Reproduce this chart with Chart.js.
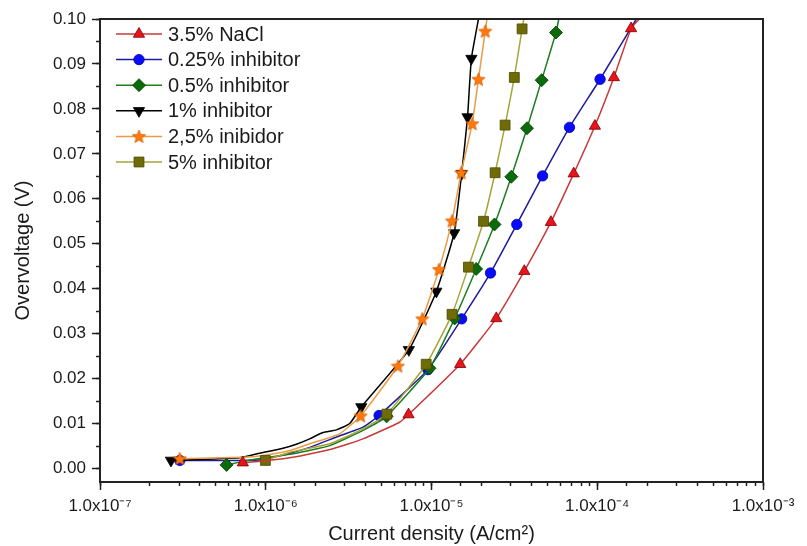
<!DOCTYPE html>
<html>
<head>
<meta charset="utf-8">
<script src="https://cdn.jsdelivr.net/npm/chart.js@4.4.0/dist/chart.umd.min.js"></script>
<style>
  html, body { margin: 0; padding: 0; background: #fff; }
</style>
</head>
<body>
<canvas id="chart" width="807" height="546"></canvas>
<script>
// Data (current density A/cm², overvoltage V)
const naclX = [7.27e-7, 9.20e-7, 1.46e-6, 2.54e-6, 3.86e-6, 6.42e-6, 7.27e-6, 1.49e-5, 2.46e-5, 3.63e-5, 5.25e-5, 7.21e-5, 9.68e-5, 1.26e-4, 1.60e-4, 1.79e-4];
const naclY = [0.0013, 0.0016, 0.0025, 0.0044, 0.0066, 0.0103, 0.0120, 0.0232, 0.0334, 0.0439, 0.0548, 0.0656, 0.0762, 0.0870, 0.0979, 0.1000];
const naclMarks = [0, 6, 7, 8, 9, 10, 11, 12, 13, 14];

const inh025X = [3.03e-7, 9.20e-7, 1.40e-6, 1.84e-6, 2.67e-6, 3.86e-6, 4.83e-6, 9.51e-6, 1.52e-5, 2.27e-5, 3.27e-5, 4.68e-5, 6.80e-5, 1.04e-4, 1.72e-4];
const inh025Y = [0.0018, 0.0019, 0.0034, 0.0047, 0.0070, 0.0092, 0.0118, 0.0220, 0.0333, 0.0435, 0.0543, 0.0651, 0.0759, 0.0866, 0.1000];
const inh025Marks = [0, 6, 7, 8, 9, 10, 11, 12, 13];

const inh05X = [5.80e-7, 8.01e-7, 1.46e-6, 2.43e-6, 3.86e-6, 5.36e-6, 9.73e-6, 1.38e-5, 1.86e-5, 2.40e-5, 3.03e-5, 3.77e-5, 4.62e-5, 5.64e-5, 5.86e-5];
const inh05Y = [0.0008, 0.0019, 0.0033, 0.0051, 0.0085, 0.0116, 0.0223, 0.0334, 0.0444, 0.0543, 0.0649, 0.0757, 0.0864, 0.0970, 0.1000];
const inh05Marks = [0, 5, 6, 7, 8, 9, 10, 11, 12, 13];

const inh1X = [2.68e-7, 6.97e-7, 9.20e-7, 1.27e-6, 1.53e-6, 1.84e-6, 2.21e-6, 2.67e-6, 3.21e-6, 3.77e-6, 7.30e-6, 1.07e-5, 1.37e-5, 1.52e-5, 1.65e-5, 1.74e-5, 1.92e-5];
const inh1Y = [0.0018, 0.0024, 0.0034, 0.0045, 0.0054, 0.0066, 0.0080, 0.0086, 0.0100, 0.0137, 0.0264, 0.0394, 0.0524, 0.0656, 0.0782, 0.0912, 0.1000];
const inh1Marks = [0, 9, 10, 11, 12, 13, 14, 15];

const inh25X = [3.03e-7, 7.27e-7, 9.63e-7, 1.40e-6, 1.84e-6, 2.21e-6, 2.79e-6, 3.74e-6, 6.27e-6, 8.79e-6, 1.11e-5, 1.33e-5, 1.51e-5, 1.76e-5, 1.92e-5, 2.11e-5, 2.16e-5];
const inh25Y = [0.0022, 0.0025, 0.0029, 0.0040, 0.0055, 0.0064, 0.0077, 0.0117, 0.0228, 0.0333, 0.0443, 0.0551, 0.0658, 0.0767, 0.0866, 0.0973, 0.1000];
const inh25Marks = [0, 7, 8, 9, 10, 11, 12, 13, 14, 15];

const inh5X = [9.95e-7, 1.40e-6, 2.43e-6, 3.86e-6, 5.38e-6, 9.29e-6, 1.33e-5, 1.67e-5, 2.06e-5, 2.42e-5, 2.78e-5, 3.16e-5, 3.52e-5, 3.61e-5];
const inh5Y = [0.0018, 0.0036, 0.0055, 0.0088, 0.0121, 0.0232, 0.0343, 0.0448, 0.0550, 0.0658, 0.0764, 0.0870, 0.0978, 0.1000];
const inh5Marks = [0, 4, 5, 6, 7, 8, 9, 10, 11, 12];

const xMin = 1e-7, xMax = 1e-3;
const yMin = -0.003, yMax = 0.10;

const FONT = '"Liberation Sans", Arial, sans-serif';
Chart.defaults.font.family = FONT;
Chart.defaults.color = '#1a1a1a';

// estrela cheia para a serie 2,5%
function starImage(size, fill, edge) {
    const c = document.createElement('canvas');
    c.width = size;
    c.height = size;
    const g = c.getContext('2d');
    const cx = size / 2, cy = size / 2 + 0.5;
    const r1 = size / 2 - 0.5, r2 = r1 * 0.45;
    g.beginPath();
    for (let i = 0; i < 10; i++) {
        const r = i % 2 ? r2 : r1;
        const a = -Math.PI / 2 + i * Math.PI / 5;
        g.lineTo(cx + r * Math.cos(a), cy + r * Math.sin(a));
    }
    g.closePath();
    g.fillStyle = fill;
    g.fill();
    g.strokeStyle = edge;
    g.lineWidth = 0.6;
    g.stroke();
    return c;
}
const star = starImage(15, '#ff7a0a', '#c85000');

const series = [
    { label: '3.5% NaCl', x: naclX, y: naclY, marks: naclMarks, line: '#c83a3a', fill: '#e8141c', edge: '#7a0000', shape: 'triangle', rotation: 0, radius: 6.5, order: 0 },
    { label: '0.25% inhibitor', x: inh025X, y: inh025Y, marks: inh025Marks, line: '#1c1c9c', fill: '#0a0aff', edge: '#0000a0', shape: 'circle', rotation: 0, radius: 5.2, order: 5 },
    { label: '0.5% inhibitor', x: inh05X, y: inh05Y, marks: inh05Marks, line: '#1e7d1e', fill: '#0b6b0b', edge: '#003c00', shape: 'rectRot', rotation: 0, radius: 6.5, order: 4 },
    { label: '1% inhibitor', x: inh1X, y: inh1Y, marks: inh1Marks, line: '#000000', fill: '#000000', edge: '#000000', shape: 'triangle', rotation: 180, radius: 6.5, order: 3 },
    { label: '2,5% inibidor', x: inh25X, y: inh25Y, marks: inh25Marks, line: '#eb9b48', fill: '#ff7a0a', edge: '#c85000', shape: star, rotation: 0, radius: 6, order: 2 },
    { label: '5% inhibitor', x: inh5X, y: inh5Y, marks: inh5Marks, line: '#a8a438', fill: '#6f6c08', edge: '#4a4800', shape: 'rect', rotation: 0, radius: 7, order: 1 }
];

const datasets = series.map(s => ({
    label: s.label,
    data: s.x.map((v, i) => ({ x: v, y: s.y[i] })),
    borderColor: s.line,
    borderWidth: 1.5,
    backgroundColor: s.fill,
    pointBackgroundColor: s.fill,
    pointBorderColor: s.edge,
    pointBorderWidth: 0.8,
    pointStyle: s.shape,
    pointRotation: s.rotation,
    pointRadius: ctx => s.marks.includes(ctx.dataIndex) ? s.radius : 0,
    pointHoverRadius: 0,
    tension: 0.15,
    order: s.order
}));

function sup(n) {
    const map = { '-': '\u207B', '0': '\u2070', '1': '\u00B9', '2': '\u00B2', '3': '\u00B3', '4': '\u2074', '5': '\u2075', '6': '\u2076', '7': '\u2077', '8': '\u2078', '9': '\u2079' };
    return String(n).split('').map(c => map[c]).join('');
}
const isDecade = v => Math.abs(Math.log10(v) - Math.round(Math.log10(v))) < 1e-6;

// moldura do grafico
const framePlugin = {
    id: 'frame',
    afterDraw(chart) {
        const { ctx, chartArea: a } = chart;
        ctx.save();
        ctx.strokeStyle = '#222';
        ctx.lineWidth = 2;
        ctx.strokeRect(a.left, a.top, a.right - a.left, a.bottom - a.top);
        ctx.restore();
    }
};

// legenda dentro da area do grafico
const legendPlugin = {
    id: 'insideLegend',
    afterDraw(chart) {
        const { ctx, chartArea: a } = chart;
        ctx.save();
        ctx.font = '20px ' + FONT;
        ctx.textBaseline = 'middle';
        series.forEach((s, i) => {
            const y = a.top + 15 + i * 25.6;
            const x0 = a.left + 16;
            ctx.strokeStyle = s.line;
            ctx.lineWidth = 1.5;
            ctx.beginPath();
            ctx.moveTo(x0, y);
            ctx.lineTo(x0 + 46, y);
            ctx.stroke();
            ctx.fillStyle = s.fill;
            ctx.strokeStyle = s.edge;
            ctx.lineWidth = 0.8;
            Chart.helpers.drawPoint(ctx, { pointStyle: s.shape, rotation: s.rotation, radius: s.radius, borderWidth: 0.8 }, x0 + 23, y);
            ctx.fillStyle = '#1a1a1a';
            ctx.fillText(s.label, x0 + 52, y + 1);
        });
        ctx.restore();
    }
};

const minorGrid = { drawOnChartArea: false, drawTicks: true, tickLength: 4, color: '#222', tickWidth: 1.5 };

new Chart(document.getElementById('chart'), {
    type: 'line',
    data: { datasets },
    options: {
        responsive: false,
        animation: false,
        events: [],
        layout: { padding: { top: 19, right: 44, left: 0, bottom: 0 } },
        plugins: {
            legend: { display: false },
            tooltip: { enabled: false }
        },
        scales: {
            x: {
                type: 'logarithmic',
                min: xMin,
                max: xMax,
                weight: 1,
                afterBuildTicks: scale => { scale.ticks = scale.ticks.filter(t => isDecade(t.value)); },
                afterFit: scale => { scale.height = 64; },
                border: { display: true, color: '#222', width: 2 },
                grid: { drawOnChartArea: false, drawTicks: true, tickLength: 8, color: '#222', tickWidth: 1.5 },
                ticks: {
                    autoSkip: false,
                    maxRotation: 0,
                    padding: 6,
                    font: { size: 17 },
                    color: '#1a1a1a',
                    callback: v => isDecade(v) ? '1.0x10' + sup(Math.round(Math.log10(v))) : ''
                },
                title: { display: true, text: 'Current density (A/cm²)', font: { size: 20 }, color: '#1a1a1a', padding: { top: 0, bottom: 0 } }
            },
            xMinor: {
                type: 'logarithmic',
                position: 'bottom',
                min: xMin,
                max: xMax,
                weight: 0,
                afterFit: scale => { scale.height = 0; },
                border: { display: false },
                grid: minorGrid,
                ticks: { autoSkip: false, callback: () => '' }
            },
            y: {
                min: yMin,
                max: yMax,
                weight: 1,
                afterFit: scale => { scale.width = 100; },
                border: { display: true, color: '#222', width: 2 },
                grid: { drawOnChartArea: false, drawTicks: true, tickLength: 8, color: '#222', tickWidth: 1.5 },
                ticks: {
                    stepSize: 0.01,
                    includeBounds: false,
                    padding: 6,
                    font: { size: 17 },
                    color: '#1a1a1a',
                    callback: v => v.toFixed(2)
                },
                title: { display: true, text: 'Overvoltage (V)', font: { size: 20 }, color: '#1a1a1a', padding: { top: 11, bottom: 0 } }
            },
            yMinor: {
                position: 'left',
                min: yMin,
                max: yMax,
                weight: 0,
                afterFit: scale => { scale.width = 0; },
                border: { display: false },
                grid: minorGrid,
                ticks: { stepSize: 0.005, includeBounds: false, callback: () => '' }
            }
        }
    },
    plugins: [framePlugin, legendPlugin]
});
</script>
</body>
</html>
